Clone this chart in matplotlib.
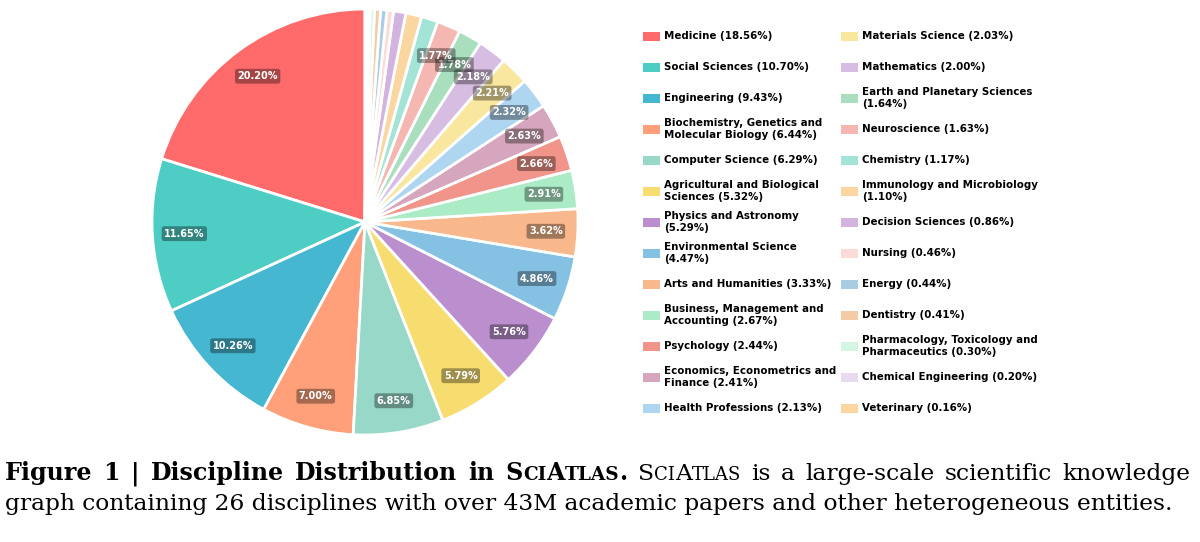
import matplotlib
matplotlib.use('Agg')
import matplotlib.pyplot as plt
from matplotlib.patches import Rectangle
import textwrap

disciplines = [
    "Medicine", "Social Sciences", "Engineering",
    "Biochemistry, Genetics and Molecular Biology", "Computer Science",
    "Agricultural and Biological Sciences", "Physics and Astronomy",
    "Environmental Science", "Arts and Humanities",
    "Business, Management and Accounting", "Psychology",
    "Economics, Econometrics and Finance", "Health Professions",
    "Materials Science", "Mathematics", "Earth and Planetary Sciences",
    "Neuroscience", "Chemistry", "Immunology and Microbiology",
    "Decision Sciences", "Nursing", "Energy", "Dentistry",
    "Pharmacology, Toxicology and Pharmaceutics", "Chemical Engineering",
    "Veterinary",
]
# shares in %, a few given with one more digit so the pie labels match
shares = [18.56, 10.70, 9.43, 6.4355, 6.29, 5.32, 5.29, 4.466, 3.33, 2.67,
          2.44, 2.413, 2.13, 2.03, 2.00, 1.639, 1.63, 1.17, 1.10, 0.86, 0.46,
          0.44, 0.41, 0.30, 0.20, 0.16]
colors = [
    '#FF6B6B', '#4ECDC4', '#45B7D1', '#FFA07A', '#98D8C8', '#F7DC6F',
    '#BB8FCE', '#85C1E2', '#F8B88B', '#ABEBC6', '#F1948A', '#D5A6BD',
    '#AED6F1', '#F9E79F', '#D7BDE2', '#A9DFBF', '#F5B7B1', '#A3E4D7',
    '#FAD7A0', '#D2B4DE', '#FADBD8', '#A9CCE3', '#F5CBA7', '#D5F5E3',
    '#E8DAEF', '#FAD7A0',
]

W, H = 1200, 542
fig = plt.figure(figsize=(W / 100, H / 100), dpi=100)

# Pie
cx, cy, r = 365, 222, 213
ax = fig.add_axes([(cx - r) / W, (H - cy - r) / H, 2 * r / W, 2 * r / H])
wedges, texts, autotexts = ax.pie(
    shares, colors=colors, startangle=90, counterclock=True,
    autopct=lambda p: f'{p:.2f}%' if p > 1.5 else '', pctdistance=0.85,
    wedgeprops=dict(edgecolor='white', linewidth=2),
    textprops=dict(color='white', fontsize=7, fontweight='bold'))
for t in autotexts:
    if t.get_text():
        t.set_bbox(dict(boxstyle='round,pad=0.25', facecolor='black',
                        alpha=0.35, edgecolor='none'))
for w in wedges:
    w.set_clip_on(False)
ax.set_xlim(-1, 1)
ax.set_ylim(-1, 1)
ax.axis('off')

# Legend, two columns with a fixed row pitch
col_x = [643, 841]
row_y0, row_dy = 36, 31
n_rows = 13
for i, (name, share, c) in enumerate(zip(disciplines, shares, colors)):
    col, row = divmod(i, n_rows)
    x = col_x[col]
    y = row_y0 + row * row_dy
    fig.add_artist(Rectangle((x / W, 1 - (y + 4.5) / H), 17 / W, 9 / H,
                             transform=fig.transFigure, facecolor=c,
                             edgecolor='none'))
    label = textwrap.fill(f"{name} ({share:.2f}%)", 28)
    fig.text((x + 21) / W, 1 - y / H, label, fontsize=7.4, fontweight='bold',
             ha='left', va='center', linespacing=1.15)

# Caption with small caps
SERIF = 'DejaVu Serif'
FS = 16.8
FB = 17.1
renderer = fig.canvas.get_renderer()


def text_width(s, size, weight):
    t = fig.text(0, 0, s, fontsize=size, fontweight=weight, family=SERIF)
    w = t.get_window_extent(renderer).width
    t.remove()
    return w


def space_width(size, weight):
    return text_width('n n', size, weight) - text_width('nn', size, weight)


def draw_runs(x, y, runs, right=None):
    widths = []
    for s, size, weight in runs:
        if s == ' ':
            widths.append(space_width(size, weight))
        else:
            widths.append(text_width(s, size, weight))
    # justify: spread spare room over the word gaps
    extra = 0
    if right is not None:
        n_gaps = sum(s == ' ' for s, _, _ in runs) + sum(
            s.count(' ') for s, _, _ in runs if s != ' ')
        extra = (right - x - sum(widths)) / max(n_gaps, 1)
    for (s, size, weight), w in zip(runs, widths):
        if s == ' ':
            x += w + extra
            continue
        words = s.split(' ')
        if extra and len(words) > 1:
            sp = space_width(size, weight)
            for word in words:
                fig.text(x / W, 1 - y / H, word, fontsize=size, fontweight=weight,
                         family=SERIF, va='baseline', ha='left')
                x += text_width(word, size, weight) + sp + extra
            x -= sp + extra
        else:
            fig.text(x / W, 1 - y / H, s, fontsize=size, fontweight=weight,
                     family=SERIF, va='baseline', ha='left')
            x += w


def sciatlas(size, weight):
    return [('S', size, weight), ('CI', size * 0.78, weight), ('A', size, weight),
            ('TLAS', size * 0.78, weight)]


line1 = ([('Figure 1 | Discipline Distribution in', FB, 'bold'), (' ', FB, 'bold')]
         + sciatlas(FB, 'bold') + [('.', FB, 'bold'), (' ', FS, 'normal')]
         + sciatlas(FS, 'normal')
         + [(' ', FS, 'normal'),
            ('is a large-scale scientific knowledge', FS, 'normal')])
line2 = [('graph containing 26 disciplines with over 43M academic papers and '
          'other heterogeneous entities.', FS, 'normal')]
draw_runs(5, 480, line1, right=1190)
draw_runs(5, 510, line2)

fig.savefig('out.png', dpi=100)
